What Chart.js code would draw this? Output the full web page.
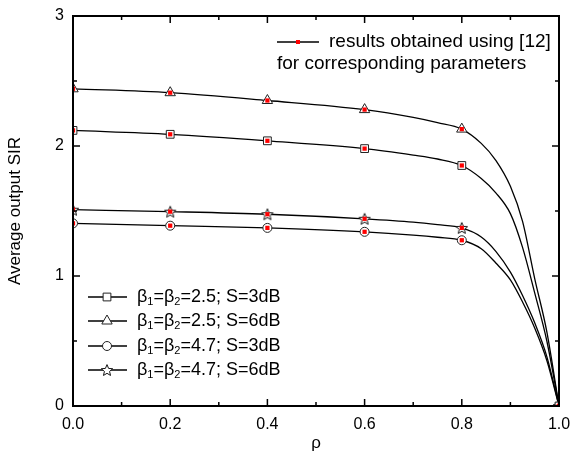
<!DOCTYPE html>
<html>
<head>
<meta charset="utf-8">
<script src="https://cdn.jsdelivr.net/npm/chart.js@4.4.0/dist/chart.umd.min.js"></script>
<style>
  html, body { margin: 0; padding: 0; background: #fff; }
</style>
</head>
<body>
<canvas id="sirChart" width="570" height="466"></canvas>
<script>
// rho values along the analytic curves
const rhoCurve = [0, 0.2, 0.4, 0.6, 0.7, 0.75, 0.8, 0.84, 0.87, 0.9, 0.925, 0.95, 0.975, 1.0];
const sirB25S3 = [2.12, 2.09, 2.04, 1.98, 1.93, 1.90, 1.85, 1.75, 1.64, 1.48, 1.22, 0.87, 0.50, 0];
const sirB25S6 = [2.44, 2.41, 2.35, 2.28, 2.22, 2.18, 2.13, 2.02, 1.89, 1.69, 1.42, 0.98, 0.57, 0];
const sirB47S3 = [1.405, 1.387, 1.37, 1.34, 1.315, 1.298, 1.275, 1.21, 1.10, 0.97, 0.80, 0.60, 0.35, 0];
const sirB47S6 = [1.51, 1.495, 1.475, 1.44, 1.415, 1.395, 1.37, 1.30, 1.19, 1.03, 0.85, 0.64, 0.38, 0];

// marker positions (same points were taken from [12])
const rhoMarks = [0, 0.2, 0.4, 0.6, 0.8, 1.0];
const markB25S3 = [2.12, 2.09, 2.04, 1.98, 1.85, 0];
const markB25S6 = [2.44, 2.41, 2.35, 2.28, 2.13, 0];
const markB47S3 = [1.405, 1.387, 1.37, 1.34, 1.275, 0];
const markB47S6 = [1.51, 1.495, 1.475, 1.44, 1.37, 0];

const seriesBeta = ['2.5', '2.5', '4.7', '4.7'];
const seriesS = ['3dB', '6dB', '3dB', '6dB'];
const refLabel = ['results obtained using [12]', 'for corresponding parameters'];

const xTicks = { min: 0, max: 1, step: 0.2 };
const yTicks = { min: 0, max: 3, step: 1 };

const FONT = 'Arial, "Liberation Sans", sans-serif';

function toPoints(xs, ys) {
  return xs.map((x, i) => ({ x: x, y: ys[i] }));
}

// five pointed outline star for the marker
function makeStar(r, fill) {
  const c = document.createElement('canvas');
  c.width = 2 * r + 4;
  c.height = 2 * r + 4;
  const g = c.getContext('2d');
  const cx = c.width / 2, cy = c.height / 2 + 0.6;
  g.beginPath();
  for (let i = 0; i < 10; i++) {
    const rr = i % 2 === 0 ? r : r * 0.45;
    const a = -Math.PI / 2 + i * Math.PI / 5;
    const px = cx + rr * Math.cos(a), py = cy + rr * Math.sin(a);
    if (i === 0) g.moveTo(px, py); else g.lineTo(px, py);
  }
  g.closePath();
  g.fillStyle = fill;
  g.fill();
  g.lineWidth = 1;
  g.strokeStyle = '#111';
  g.stroke();
  return c;
}
const starMark = makeStar(6, '#fff');

const curves = [sirB25S3, sirB25S6, sirB47S3, sirB47S6];
const marks = [markB25S3, markB25S6, markB47S3, markB47S6];
const styles = ['rect', 'triangle', 'circle', starMark];
const radii = [5.5, 6, 4.5, 6];

const datasets = [];
curves.forEach((vals, i) => {
  datasets.push({
    data: toPoints(rhoCurve, vals),
    borderColor: '#000',
    borderWidth: 1.3,
    pointRadius: 0,
    cubicInterpolationMode: 'monotone',
    fill: false,
    order: 3
  });
  datasets.push({
    data: toPoints(rhoMarks, marks[i]),
    showLine: false,
    pointStyle: styles[i],
    pointRadius: radii[i],
    pointBackgroundColor: '#fff',
    pointBorderColor: '#222',
    pointBorderWidth: 1,
    clip: 0,
    order: 2
  });
  datasets.push({
    data: toPoints(rhoMarks, marks[i]),
    showLine: false,
    pointStyle: 'rect',
    pointRadius: 3,
    pointBackgroundColor: '#f00',
    pointBorderWidth: 0,
    clip: 0,
    order: 1
  });
});

const framePlugin = {
  id: 'frame',
  afterDatasetsDraw(chart) {
    const { ctx, chartArea: a, scales: { x, y } } = chart;
    ctx.save();
    ctx.strokeStyle = '#000';
    ctx.lineWidth = 1.5;
    ctx.beginPath();
    const xv = x.ticks.map(t => t.value);
    const yv = y.ticks.map(t => t.value);
    xv.forEach((v, i) => {
      const px = x.getPixelForValue(v);
      ctx.moveTo(px, a.bottom); ctx.lineTo(px, a.bottom - 7);
      ctx.moveTo(px, a.top); ctx.lineTo(px, a.top + 7);
      if (i < xv.length - 1) {
        const pm = x.getPixelForValue((v + xv[i + 1]) / 2);
        ctx.moveTo(pm, a.bottom); ctx.lineTo(pm, a.bottom - 4);
        ctx.moveTo(pm, a.top); ctx.lineTo(pm, a.top + 4);
      }
    });
    yv.forEach((v, i) => {
      const py = y.getPixelForValue(v);
      ctx.moveTo(a.left, py); ctx.lineTo(a.left + 7, py);
      ctx.moveTo(a.right, py); ctx.lineTo(a.right - 7, py);
      if (i < yv.length - 1) {
        const pm = y.getPixelForValue((v + yv[i + 1]) / 2);
        ctx.moveTo(a.left, pm); ctx.lineTo(a.left + 4, pm);
        ctx.moveTo(a.right, pm); ctx.lineTo(a.right - 4, pm);
      }
    });
    ctx.stroke();
    ctx.lineWidth = 2;
    ctx.strokeRect(a.left, a.top, a.width, a.height);
    ctx.restore();
  }
};

function drawBetaText(ctx, x, y, beta, s) {
  const big = '18px ' + FONT, small = '11px ' + FONT;
  const parts = [['β', big, 0], ['1', small, 5], ['=β', big, 0], ['2', small, 5], ['=' + beta + '; S=' + s, big, 0]];
  parts.forEach(p => {
    ctx.font = p[1];
    ctx.fillText(p[0], x, y + p[2]);
    x += ctx.measureText(p[0]).width;
  });
}

const legendPlugin = {
  id: 'legendBoxes',
  afterDraw(chart) {
    const ctx = chart.ctx;
    ctx.save();
    ctx.textBaseline = 'middle';
    ctx.fillStyle = '#000';
    // bottom-left legend
    const rowY = [297, 321, 346, 370];
    rowY.forEach((ry, i) => {
      ctx.strokeStyle = '#000';
      ctx.lineWidth = 1.3;
      ctx.beginPath();
      ctx.moveTo(88, ry); ctx.lineTo(127, ry);
      ctx.stroke();
      ctx.fillStyle = '#fff';
      ctx.strokeStyle = '#222';
      ctx.lineWidth = 1;
      Chart.helpers.drawPoint(ctx, { pointStyle: styles[i], radius: radii[i], rotation: 0, borderWidth: 1 }, 107, ry);
      ctx.fillStyle = '#000';
      drawBetaText(ctx, 137, ry, seriesBeta[i], seriesS[i]);
    });
    // top-right legend
    ctx.strokeStyle = '#000';
    ctx.lineWidth = 1.3;
    ctx.beginPath();
    ctx.moveTo(277, 42); ctx.lineTo(319, 42);
    ctx.stroke();
    ctx.fillStyle = '#f00';
    ctx.fillRect(296, 40, 4, 4);
    ctx.fillStyle = '#000';
    ctx.font = '19px ' + FONT;
    ctx.fillText(refLabel[0], 329, 42);
    ctx.fillText(refLabel[1], 277, 64);
    ctx.restore();
  }
};

new Chart(document.getElementById('sirChart'), {
  type: 'line',
  data: { datasets: datasets },
  options: {
    responsive: false,
    animation: false,
    events: [],
    layout: { padding: { left: 0, right: 11, top: 16, bottom: 0 } },
    plugins: {
      legend: { display: false },
      tooltip: { enabled: false }
    },
    scales: {
      x: {
        type: 'linear',
        min: xTicks.min,
        max: xTicks.max,
        afterFit: (s) => { s.height = 60; s.paddingLeft = 0; s.paddingRight = 0; },
        ticks: {
          stepSize: xTicks.step,
          callback: (v) => v.toFixed(1),
          color: '#000',
          font: { family: FONT, size: 16 },
          padding: 9,
          maxRotation: 0
        },
        grid: { display: false, drawTicks: false },
        border: { display: false },
        title: {
          display: true,
          text: 'ρ',
          color: '#000',
          font: { family: FONT, size: 17 },
          padding: { top: 0, bottom: 12 }
        }
      },
      y: {
        min: yTicks.min,
        max: yTicks.max,
        afterFit: (s) => { s.width = 73; s.paddingTop = 0; s.paddingBottom = 0; },
        ticks: {
          stepSize: yTicks.step,
          color: '#000',
          font: { family: FONT, size: 16 },
          padding: 9
        },
        grid: { display: false, drawTicks: false },
        border: { display: false },
        title: {
          display: true,
          text: 'Average output SIR',
          color: '#000',
          font: { family: FONT, size: 17 },
          padding: { top: 5, bottom: 0 }
        }
      }
    }
  },
  plugins: [framePlugin, legendPlugin]
});
</script>
</body>
</html>
